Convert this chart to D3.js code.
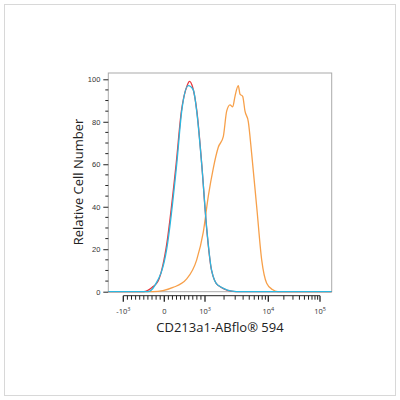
<!DOCTYPE html>
<html><head><meta charset="utf-8">
<script src="https://cdn.jsdelivr.net/npm/d3@7"></script>
<style>body{margin:0;background:#fff;font-family:"Open Sans",sans-serif}</style>
</head><body>
<script>
//histogram data: fluorescence value, % of max
var blueX = [-1370,-408,-228,59,305,428,590,713,796,919,1064,1272,1604,3168,170000];
var blueY = [0,0,3,20,60,85,97,95,85,60,30,10,3,0,0];
var redX = [-1370,-500,-300,-150,40,290,420,560,620,700,800,920,1060,1270,1600,3000,170000];
var redY = [0,0,2,5,20,60,85,97,99,96,85,60,30,10,3,0,0];
var orangeX = [-1370,-278,214,550,796,958,1128,1349,1621,1945,2200,2483,2738,2978,3357,3571,3937,4283,4836,5460,6556,7861,9430,12020,15300,170000];
var orangeY = [0,0,2,6,15,28,45,58,68,73,85,88,87,92,97,93,92,85,80,65,40,15,4,1,0,0];
var yTicks = [0,20,40,60,80,100];
var xTicks = [-1000,0,1000,10000,100000];
var xTickLabels = [["-10","3"],["0",""],["10","3"],["10","4"],["10","5"]];

var svg = d3.select("body").append("svg").attr("width",400).attr("height",400);
svg.append("rect").attr("x",4.5).attr("y",4.5).attr("width",391).attr("height",391)
    .attr("fill","none").attr("stroke","#d8d8d8");

//linear within +/-1000, log decades beyond
function t(v){
    if (Math.abs(v) <= 1000) return v/1000;
    return Math.sign(v)*(1 + Math.log10(Math.abs(v)/1000));
}
var xs = d3.scaleLinear().domain([t(-1370),-1,0,1,2,3,t(170000)])
    .range([108.3,123.3,164.3,205,268.3,320,331.7]);
var x = function(v){ return xs(t(v)); };
var y = d3.scaleLinear().domain([0,100]).range([291.7,79.3]);

svg.append("rect").attr("x",108.3).attr("y",73).attr("width",223.4).attr("height",218.7)
    .attr("fill","none").attr("stroke","#aaa");

//y axis
var ya = svg.append("g").attr("transform","translate(108.3,0)");
ya.call(d3.axisLeft(y).tickValues(yTicks).tickSize(5).tickPadding(3))
    .call(function(g){ g.select(".domain").remove(); })
    .selectAll("text").attr("font-size",7.5).attr("fill","#333");
ya.selectAll(".tick line").attr("stroke","#222");
ya.selectAll(".minor").data(d3.range(0,101,5).filter(function(d){return d%20;}))
    .enter().append("line").attr("x1",-3).attr("x2",0)
    .attr("y1",function(d){return y(d);}).attr("y2",function(d){return y(d);}).attr("stroke","#222");

//x axis
var xg = svg.append("g").attr("transform","translate(0,291.7)");
var minor = [];
d3.range(-900,1000,100).forEach(function(v){ if (v) minor.push(v); });
[1000,10000].forEach(function(b){ d3.range(2,10).forEach(function(k){ minor.push(b*k); }); });
xg.selectAll(".mn").data(minor).enter().append("line")
    .attr("x1",function(d){return x(d);}).attr("x2",function(d){return x(d);})
    .attr("y1",4).attr("y2",8).attr("stroke","#222");
xg.selectAll(".mj").data(xTicks).enter().append("line")
    .attr("x1",function(d){return x(d);}).attr("x2",function(d){return x(d);})
    .attr("y1",4).attr("y2",10).attr("stroke","#222").attr("stroke-width",1.3);
xg.append("line").attr("x1",x(-1000)).attr("x2",x(100000)).attr("y1",4).attr("y2",4).attr("stroke","#222");
var lab = xg.selectAll(".lb").data(xTicks).enter().append("text")
    .attr("x",function(d){return x(d);}).attr("y",22).attr("text-anchor","middle")
    .attr("font-size",7.5).attr("fill","#333");
lab.append("tspan").text(function(d,i){return xTickLabels[i][0];});
lab.append("tspan").attr("dy",-3).attr("font-size",5.5).text(function(d,i){return xTickLabels[i][1];});

//curves
var line = d3.line().x(function(d){return x(d[0]);}).y(function(d){return y(d[1]);}).curve(d3.curveMonotoneX);
var series = [[orangeX,orangeY,"#f7a04a"],[redX,redY,"#e8383d"],[blueX,blueY,"#2bb8e0"]];
series.forEach(function(s){
    svg.append("path").attr("d",line(d3.zip(s[0],s[1]))).attr("fill","none")
        .attr("stroke",s[2]).attr("stroke-width",1.3);
});

svg.append("text").attr("x",220).attr("y",332).attr("text-anchor","middle")
    .attr("font-size",13).attr("fill","#222").text("CD213a1-ABflo® 594");
svg.append("text").attr("transform","translate(83,182) rotate(-90)").attr("text-anchor","middle")
    .attr("font-size",13).attr("fill","#222").text("Relative Cell Number");
</script>
</body></html>
